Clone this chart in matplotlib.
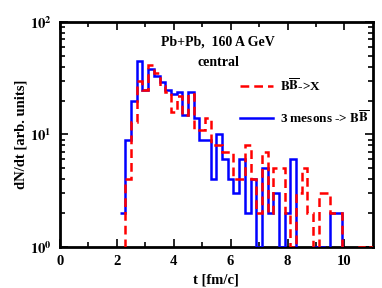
import numpy as np
import matplotlib
matplotlib.use("Agg")
import matplotlib.pyplot as plt
from matplotlib.ticker import FixedLocator, LogLocator, NullFormatter

plt.rcParams['font.family'] = ['Liberation Serif', 'DejaVu Serif']
plt.rcParams['font.weight'] = 'bold'
plt.rcParams['mathtext.fontset'] = 'stix'

# histogram bins (0.2 fm/c wide), starting at t = 2.1
bin_start = 2.1
bin_width = 0.2

# B Bbar -> X (red dashed)
bb_to_x = [0, 4, 13, 30, 25, 41, 35, 27, 24, 16,
           22, 15, 23, 11, 11, 14, 8, 8, 7, 7,
           4, 4, 8, 4, 2, 7, 2, 5, 5, 2,
           1, 3, 5, 2, 0, 3, 3, 2, 2, 0,
           0, 0, 1, 0, 1]

# 3 mesons -> B Bbar (blue solid)
mesons_to_bb = [2, 9, 20, 45, 25, 38, 33, 29, 25, 23,
                24, 15, 24, 14, 9, 9, 4, 10, 6, 4,
                3, 6, 2, 4, 1, 5, 2, 3, 1, 2,
                6, 0, 0, 0, 1, 1, 0, 2, 2, 0,
                0, 0, 0, 0, 0]

edges = bin_start + bin_width * np.arange(len(bb_to_x) + 1)

fig = plt.figure(figsize=(3.82, 2.88), dpi=100)
ax = fig.add_axes([0.157, 0.142, 0.819, 0.782])
ax.set_yscale('log', nonpositive='clip')

ax.stairs(mesons_to_bb, edges, baseline=None, color='#0000ff', lw=1.8, zorder=3)
ax.stairs(bb_to_x, edges, baseline=None, color='#ff0000', lw=1.8,
          linestyle=(0, (3.5, 2.0)), zorder=4)

ax.set_xlim(0, 11)
ax.set_ylim(1, 100)

ax.xaxis.set_major_locator(FixedLocator([0, 2, 4, 6, 8, 10]))
ax.xaxis.set_minor_locator(FixedLocator([1, 3, 5, 7, 9]))
ax.yaxis.set_major_locator(FixedLocator([1, 10, 100]))
ax.yaxis.set_minor_locator(LogLocator(base=10, subs=np.arange(2, 10)))
ax.yaxis.set_minor_formatter(NullFormatter())
ax.set_yticklabels([r'$\mathbf{10^{0}}$', r'$\mathbf{10^{1}}$', r'$\mathbf{10^{2}}$'])
ax.set_xticklabels(['0', '2', '4', '6', '8', '10'])

ax.tick_params(which='both', direction='in', top=True, right=True,
               labelsize=10.5, width=1.2)
ax.tick_params(which='major', length=6, pad=6)
ax.tick_params(which='minor', length=3.5)
for s in ax.spines.values():
    s.set_linewidth(2)

ax.set_xlabel('t [fm/c]', fontsize=10.5, fontweight='bold', labelpad=4)
ax.set_ylabel('dN/dt [arb. units]', fontsize=10.5, fontweight='bold', labelpad=2)

ax.text(0.505, 0.91, 'Pb+Pb,  160 A GeV', transform=ax.transAxes,
        ha='center', va='center', fontsize=10, fontweight='bold')
ax.text(0.505, 0.82, 'central', transform=ax.transAxes,
        ha='center', va='center', fontsize=10, fontweight='bold')

# legend drawn by hand to the right of the data
legend_rows = [(0.715, 'BB->X', '#ff0000', (0, (3.5, 2.0)),
                r'$\mathbf{B}\overline{\mathbf{B}}$->X'),
               (0.575, '3m', '#0000ff', '-',
                r'3 mesons -> $\mathbf{B}\overline{\mathbf{B}}$')]
lx0, lx1 = 0.575, 0.68
for line_y, _, col, ls, lab in legend_rows:
    ax.plot([lx0, lx1], [line_y, line_y], transform=ax.transAxes,
            color=col, lw=1.8, linestyle=ls)
    ax.text(lx1 + 0.022, line_y, lab, transform=ax.transAxes,
            ha='left', va='center', fontsize=9.5, fontweight='bold')

fig.savefig('out.png', dpi=100)
